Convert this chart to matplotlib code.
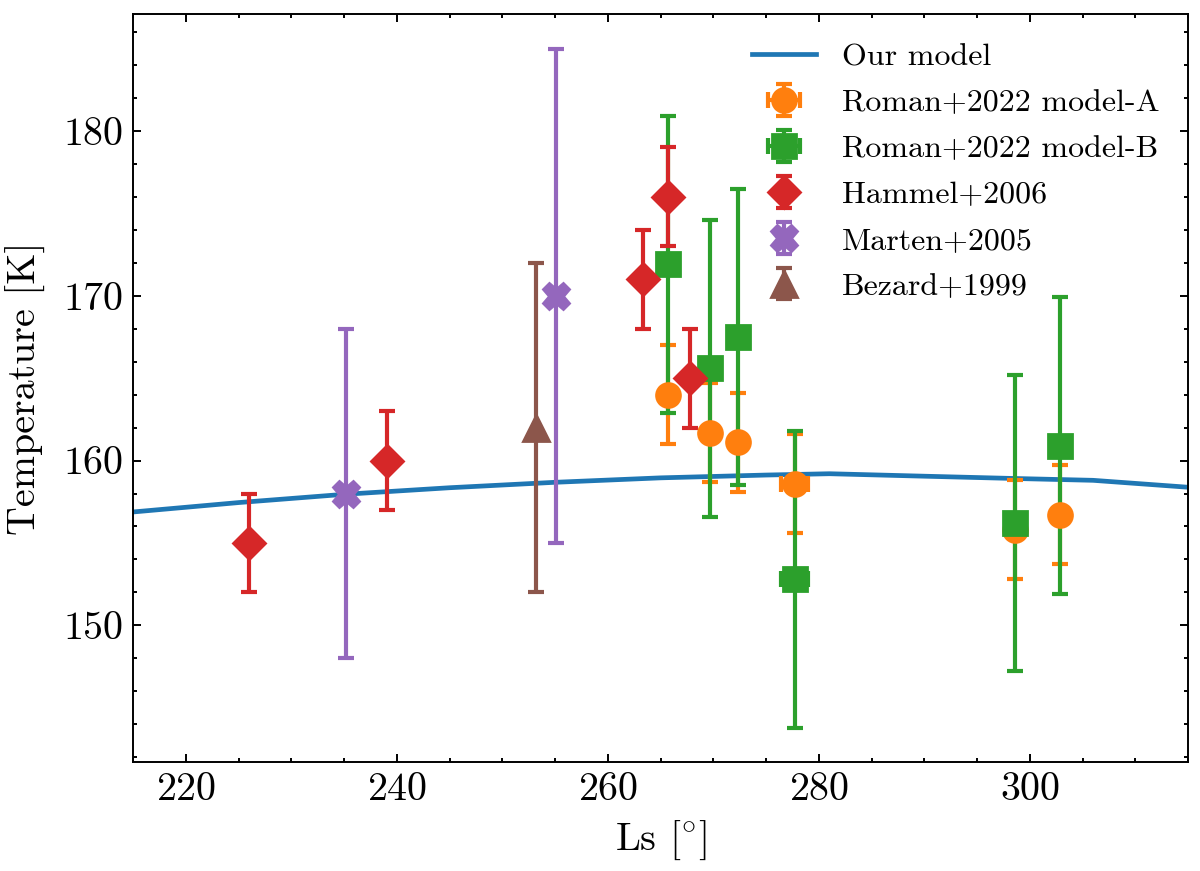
import matplotlib
matplotlib.use("Agg")
import matplotlib.pyplot as plt
from matplotlib.ticker import MultipleLocator

plt.rcParams.update({
    "font.family": "serif",
    "font.serif": ["cmr10"],
    "mathtext.fontset": "cm",
    "axes.formatter.use_mathtext": True,
    "axes.unicode_minus": False,
    "font.size": 14.4,
    "axes.linewidth": 0.7,
})

# Model curve
model_ls = [215, 225, 235, 245, 255, 265, 275, 281, 290, 298, 306, 315]
model_T = [156.88, 157.45, 157.95, 158.35, 158.68, 158.95, 159.12, 159.2, 159.05, 158.92, 158.8, 158.38]

# Roman+2022 model-A
romanA_ls = [265.7, 269.7, 272.3, 277.7, 298.6, 302.9]
romanA_T = [164.0, 161.7, 161.1, 158.6, 155.8, 156.7]
romanA_Terr = [3, 3, 3, 3, 3, 3]
romanA_lserr = [0.5, 0.5, 0.5, 1.3, 0.5, 0.5]

# Roman+2022 model-B
romanB_ls = [265.7, 269.7, 272.3, 277.7, 298.6, 302.9]
romanB_T = [171.9, 165.6, 167.5, 152.8, 156.2, 160.9]
romanB_Terr = [9, 9, 9, 9, 9, 9]
romanB_lserr = [0.5, 0.5, 0.5, 1.3, 0.5, 0.5]

# Hammel+2006
hammel_ls = [226.0, 239.1, 263.3, 265.7, 267.8]
hammel_T = [155, 160, 171, 176, 165]
hammel_err = [3, 3, 3, 3, 3]

# Marten+2005
marten_ls = [235.2, 255.1]
marten_T = [158, 170]
marten_err = [10, 15]

# Bezard+1999
bezard_ls = [253.2]
bezard_T = [162]
bezard_err = [10]

fig = plt.figure(figsize=(6, 4.355), dpi=200)
ax = fig.add_axes([0.111, 0.125, 0.879, 0.859])

ax.plot(model_ls, model_T, color="#1f77b4", lw=1.7, label="Our model")

eb = dict(capsize=3, elinewidth=1.5, capthick=1.5, ls="none")
ax.errorbar(romanA_ls, romanA_T, yerr=romanA_Terr, xerr=romanA_lserr, fmt="o",
            color="#ff7f0e", ms=8.6, label="Roman+2022 model-A", **eb)
ax.errorbar(romanB_ls, romanB_T, yerr=romanB_Terr, xerr=romanB_lserr, fmt="s",
            color="#2ca02c", ms=8.6, label="Roman+2022 model-B", **eb)
ax.errorbar(hammel_ls, hammel_T, yerr=hammel_err, fmt="D",
            color="#d62728", ms=8.2, label="Hammel+2006", **eb)
ax.errorbar(marten_ls, marten_T, yerr=marten_err, fmt="X",
            color="#9467bd", ms=9.5, label="Marten+2005", **eb)
ax.errorbar(bezard_ls, bezard_T, yerr=bezard_err, fmt="^",
            color="#8c564b", ms=9.5, label="Bezard+1999", **eb)

ax.set_xlim(215, 315)
ax.set_ylim(141.7, 187.1)
ax.xaxis.set_major_locator(MultipleLocator(20))
ax.xaxis.set_minor_locator(MultipleLocator(5))
ax.yaxis.set_major_locator(MultipleLocator(10))
ax.yaxis.set_minor_locator(MultipleLocator(2))
ax.tick_params(which="both", direction="in", top=True, right=True, width=0.7)
ax.tick_params(which="major", length=3)
ax.tick_params(which="minor", length=1.5)

ax.set_xlabel(r"Ls [$^{\circ}$]")
ax.set_ylabel("Temperature [K]", labelpad=6)

ax.legend(loc="upper right", frameon=False, fontsize=11.5, labelspacing=0.55)

fig.savefig("out.png", dpi=200)
